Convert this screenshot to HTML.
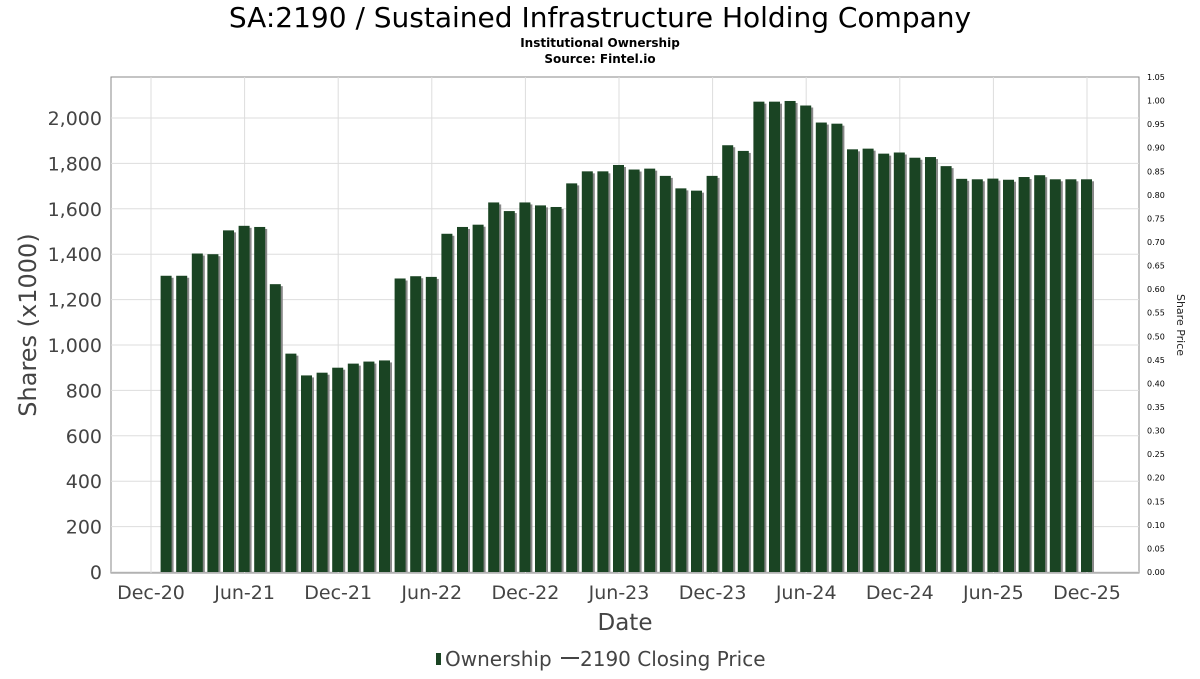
<!DOCTYPE html>
<html><head><meta charset="utf-8"><style>
body{margin:0;background:#fff;font-family:"DejaVu Sans","Liberation Sans",sans-serif}
</style></head><body>
<svg id="c" width="1200" height="675" xmlns="http://www.w3.org/2000/svg">
<text x="600" y="27" text-anchor="middle" font-size="28" fill="#000">SA:2190 / Sustained Infrastructure Holding Company</text>
<text x="600" y="47" text-anchor="middle" font-size="12" font-weight="bold">Institutional Ownership</text>
<text x="600" y="63" text-anchor="middle" font-size="12" font-weight="bold">Source: Fintel.io</text>
<rect x="111" y="77" width="1028" height="496" fill="#fff" stroke="#888"/>
<g id="grid"></g><g id="bars"></g><g id="axes"></g>
<text transform="translate(36,325) rotate(-90)" text-anchor="middle" font-size="24" fill="#444">Shares (x1000)</text>
<text transform="translate(1177,325) rotate(90)" text-anchor="middle" font-size="11" fill="#222">Share Price</text>
<text x="625" y="630" text-anchor="middle" font-size="23" fill="#444">Date</text>
<g>
<rect x="436" y="653" width="5" height="12" fill="#1a4423"/>
<text x="445" y="666" font-size="20" fill="#444">Ownership</text>
<line x1="561" y1="658" x2="579" y2="658" stroke="#444" stroke-width="2"/>
<text x="580" y="666" font-size="20" fill="#444">2190 Closing Price</text>
</g>
</svg>
<script>
const shares=[1305,1305,1403,1400,1505,1525,1520,1268,962,866,878,900,918,927,932,1293,1303,1300,1490,1520,1530,1628,1590,1628,1615,1608,1712,1765,1765,1793,1773,1777,1745,1690,1680,1745,1880,1855,2072,2072,2075,2055,1980,1975,1862,1865,1843,1848,1825,1828,1788,1732,1730,1733,1728,1740,1748,1730,1730,1730];
const yTicks=[0,200,400,600,800,1000,1200,1400,1600,1800,2000];
const priceTicks=[0,0.05,0.1,0.15,0.2,0.25,0.3,0.35,0.4,0.45,0.5,0.55,0.6,0.65,0.7,0.75,0.8,0.85,0.9,0.95,1.0,1.05];
const xLabels=["Dec-20","Jun-21","Dec-21","Jun-22","Dec-22","Jun-23","Dec-23","Jun-24","Dec-24","Jun-25","Dec-25"];
const NS="http://www.w3.org/2000/svg";
const y=v=>572-v*0.227;
const yp=v=>572-v/1.05*495;
const x=i=>151+(i+1)*15.6;
function mk(t,a,p){const e=document.createElementNS(NS,t);for(const k in a)e.setAttribute(k,a[k]);p.appendChild(e);return e;}
const G=document.getElementById('grid'),B=document.getElementById('bars'),A=document.getElementById('axes');
yTicks.forEach(v=>{
 const l=mk('line',{x1:111,x2:1139,y1:y(v),y2:y(v),stroke:'#ddd'},G);
 
 
 const t=mk('text',{x:102,y:y(v)+7,'text-anchor':'end','font-size':19,fill:'#444'},A);
 t.textContent=v.toLocaleString('en-US');
 
 
});
xLabels.forEach((s,k)=>{
 const xx=x(k*6-1);
 const l=mk('line',{x1:xx,x2:xx,y1:77,y2:573,stroke:'#ddd'},G);
 
 
 const t=mk('text',{x:xx,y:599,'text-anchor':'middle','font-size':19,fill:'#444'},A);
 t.textContent=s;
 
 
});
priceTicks.forEach(v=>{
 const t=mk('text',{x:1147,y:yp(v)+3,'font-size':8,fill:'#000'},A);
 t.textContent=v.toFixed(2);
 
 
});
shares.forEach((v,i)=>{
 const cx=x(i);
 const s=mk('rect',{x:cx-4,y:y(v)+2,width:11,height:572-y(v)-2,fill:'#888'},B);
 
 
 const r=mk('rect',{x:cx-6,y:y(v),width:11,height:572-y(v),fill:'#1a4423'},B);
 
 
});
</script>
</body></html>
